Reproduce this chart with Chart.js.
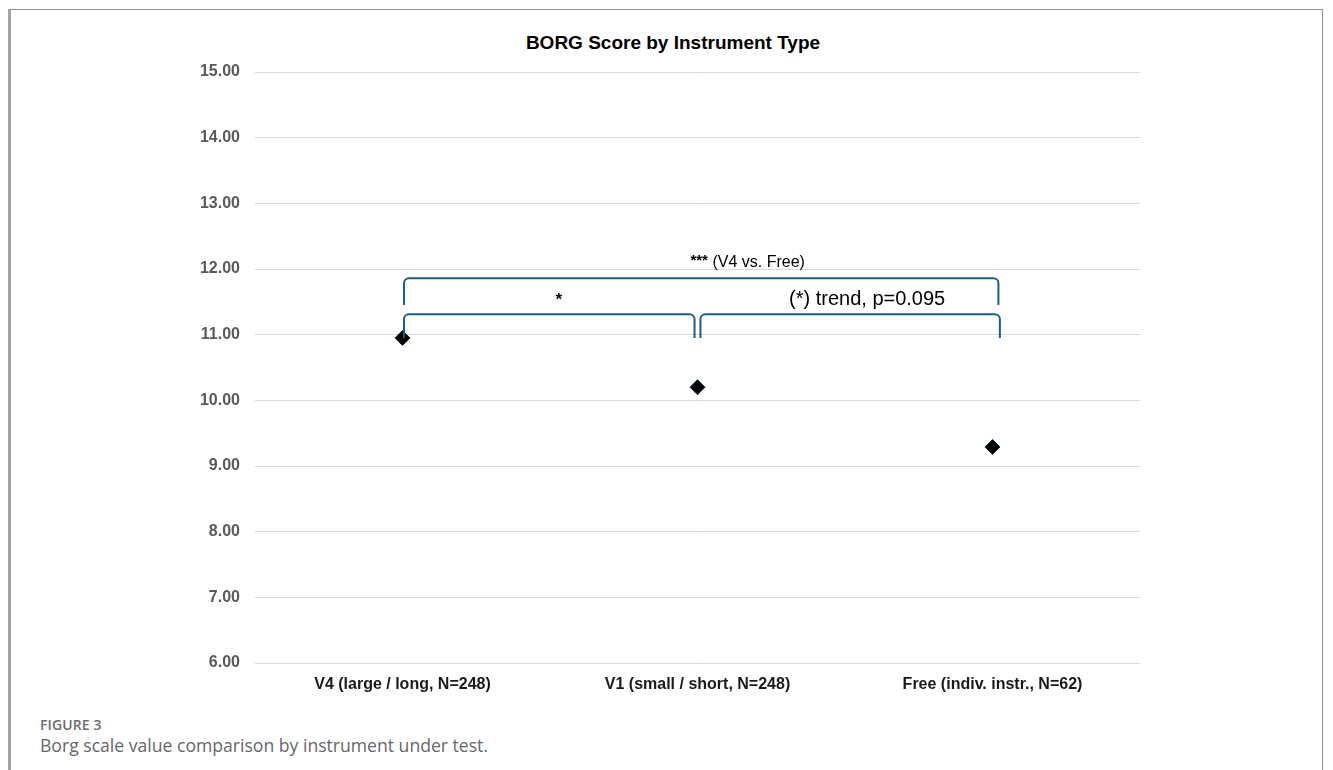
<!DOCTYPE html>
<html>
<head>
<meta charset="utf-8">
<script src="https://cdn.jsdelivr.net/npm/chart.js@4/dist/chart.umd.min.js"></script>
<style>
  html, body { margin: 0; padding: 0; background: #fff; }
  body { width: 1333px; height: 770px; position: relative; overflow: hidden; }
  #frame { position: absolute; left: 8px; top: 9px; width: 1315px; height: 770px;
           border-left: 3px solid #a3a3ab; border-top: 1px solid #8e8e96; border-right: 1px solid #8e8e96; box-sizing: border-box; }
  #wrap { position: absolute; left: 0; top: 0; width: 1333px; height: 710px; }
  #title { position: absolute; left: 0; width: 1346px; top: 32px; text-align: center;
           font: bold 19px "Liberation Sans", Arial, sans-serif; color: #000; }
  #figlabel { position: absolute; left: 40px; top: 715px; font: 600 14px "Open Sans", sans-serif; color: #6b6b70; letter-spacing: 0.1px; }
  #caption { position: absolute; left: 40px; top: 733px; font: 17.6px "Open Sans", sans-serif; color: #66666b; }
</style>
</head>
<body>
<div id="frame"></div>
<div id="title">BORG Score by Instrument Type</div>
<div id="wrap"><canvas id="c"></canvas></div>
<div id="figlabel">FIGURE 3</div>
<div id="caption">Borg scale value comparison by instrument under test.</div>
<script>
// ---- data ----
const categories = ['V4 (large / long, N=248)', 'V1 (small / short, N=248)', 'Free (indiv. instr., N=62)'];
const borgMeans = [10.95, 10.20, 9.29];
const yMin = 6, yMax = 15, yStep = 1;

// significance brackets in data units: [xStart, xEnd, yTop, yEnds]
const bracketTop = [0.005, 2.02, 11.86, 11.45];
const bracketLeft = [0.005, 0.99, 11.31, 10.95];
const bracketRight = [1.01, 2.025, 11.31, 10.95];
// annotation labels: [x (category units), y (data units)]
const labelTopPos = [1.17, 12.09];
const labelStarPos = [0.53, 11.52];
const labelTrendPos = [1.575, 11.54];

const bracketPlugin = {
  id: 'brackets',
  afterDatasetsDraw(chart) {
    const ctx = chart.ctx, xs = chart.scales.x, ys = chart.scales.y;
    const px = v => xs.getPixelForValue(v);
    const py = v => ys.getPixelForValue(v);
    function bracket(b) {
      const x0 = px(b[0]), x1 = px(b[1]), yt = py(b[2]), ye = py(b[3]);
      const r = 5;
      ctx.save();
      ctx.strokeStyle = '#1d5d86';
      ctx.lineWidth = 2;
      ctx.lineJoin = 'round';
      ctx.beginPath();
      ctx.moveTo(x0, ye);
      ctx.arcTo(x0, yt, x0 + r, yt, r);
      ctx.lineTo(x1 - r, yt);
      ctx.arcTo(x1, yt, x1, ye, r);
      ctx.lineTo(x1, ye);
      ctx.stroke();
      ctx.restore();
    }
    bracket(bracketTop); bracket(bracketLeft); bracket(bracketRight);

    ctx.save();
    ctx.fillStyle = '#000';
    ctx.textBaseline = 'middle';
    // "*** (V4 vs. Free)"
    const boldF = 'bold 15px "Liberation Sans", Arial, sans-serif';
    const normF = '16px "Liberation Sans", Arial, sans-serif';
    ctx.font = boldF; const w1 = ctx.measureText('***').width;
    ctx.font = normF; const w2 = ctx.measureText(' (V4 vs. Free)').width;
    let sx = px(labelTopPos[0]) - (w1 + w2) / 2, sy = py(labelTopPos[1]);
    ctx.textAlign = 'left';
    ctx.font = boldF; ctx.fillText('***', sx, sy - 2);
    ctx.font = normF; ctx.fillText(' (V4 vs. Free)', sx + w1, sy);
    // "*"
    ctx.textAlign = 'center';
    ctx.font = 'bold 17px "Liberation Sans", Arial, sans-serif';
    ctx.fillText('*', px(labelStarPos[0]), py(labelStarPos[1]));
    // trend
    ctx.font = '20px "Liberation Sans", Arial, sans-serif';
    ctx.fillText('(*) trend, p=0.095', px(labelTrendPos[0]), py(labelTrendPos[1]));
    ctx.restore();
  }
};

new Chart(document.getElementById('c'), {
  type: 'line',
  data: {
    labels: categories,
    datasets: [{
      label: 'BORG',
      data: borgMeans,
      showLine: false,
      pointStyle: 'rectRot',
      pointRadius: 7.5,
      pointHoverRadius: 7.5,
      backgroundColor: '#000',
      borderColor: '#0d2f47',
      borderWidth: 1
    }]
  },
  options: {
    responsive: true,
    maintainAspectRatio: false,
    animation: false,
    events: [],
    layout: { padding: { top: 72, right: 193, bottom: 0, left: 0 } },
    plugins: { legend: { display: false }, tooltip: { enabled: false }, title: { display: false } },
    scales: {
      x: {
        offset: true,
        grid: { display: false, drawTicks: false },
        border: { display: false },
        ticks: { padding: 12, color: '#1a1a1a', font: { family: '"Liberation Sans", Arial, sans-serif', size: 16, weight: 'bold' }, maxRotation: 0 },
        afterFit(s) { s.height = 47; }
      },
      y: {
        min: yMin, max: yMax,
        grid: { color: '#d9d9d9', lineWidth: 1, drawTicks: false },
        border: { display: false },
        ticks: {
          stepSize: yStep, padding: 15, color: '#595959',
          font: { family: '"Liberation Sans", Arial, sans-serif', size: 16, weight: 'bold' },
          callback: v => Number(v).toFixed(2)
        },
        afterFit(s) { s.width = 255; }
      }
    }
  },
  plugins: [bracketPlugin]
});
</script>
</body>
</html>
